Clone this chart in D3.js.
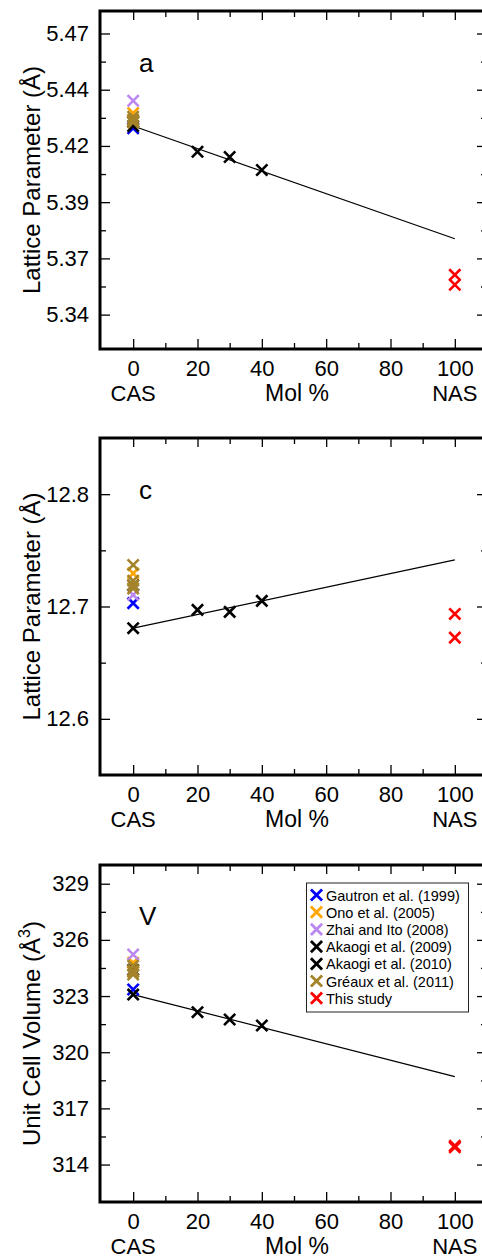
<!DOCTYPE html>
<html>
<head>
<meta charset="utf-8">
<script src="https://cdn.jsdelivr.net/npm/d3@7"></script>
<style>
  html, body { margin: 0; padding: 0; background: #fff; }
  svg { display: block; font-family: "Liberation Sans", Arial, Helvetica, sans-serif; }
</style>
</head>
<body>
<svg id="chart" width="482" height="1258"></svg>
<script>
// ---- data -------------------------------------------------------------
// composition axis (mol % NAS in the CAS–NAS join)
const xMajorTicks = [0, 20, 40, 60, 80, 100];
const xMinorTicks = [10, 30, 50, 70, 90];
const endMemberLabels = ["CAS", "Mol %", "NAS"];

// lattice parameter a (Å)
const aTicks = [5.34, 5.366, 5.392, 5.418, 5.444, 5.47];
// lattice parameter c (Å)
const cTicks = [12.6, 12.7, 12.8];
// unit cell volume (Å^3)
const vTicks = [314, 317, 320, 323, 326, 329];

// one small record per data source
const gautron  = { name: "Gautron et al. (1999)", mol: [0], a: [5.4262], c: [12.703], V: [323.35] };
const ono      = { name: "Ono et al. (2005)",     mol: [0], a: [5.4332], c: [12.7295], V: [324.78] };
const zhai     = { name: "Zhai and Ito (2008)",   mol: [0], a: [5.4389], c: [12.7103], V: [325.22] };
const akaogi09 = { name: "Akaogi et al. (2009)",  mol: [0], a: [5.4292], c: [12.719], V: [324.4] };
const akaogi10 = { name: "Akaogi et al. (2010)",  mol: [0, 20, 30, 40],
                   a: [5.4272, 5.4153, 5.4129, 5.4069],
                   c: [12.6807, 12.697, 12.6952, 12.705],
                   V: [323.08, 322.14, 321.75, 321.43] };
const greaux   = { name: "Gréaux et al. (2011)",  mol: [0, 0, 0, 0],
                   a: [5.4315, 5.4302, 5.4289, 5.4295],
                   c: [12.737, 12.723, 12.719, 12.716],
                   V: [324.62, 324.38, 324.15, 324.3] };
const thisStudy = { name: "This study",           mol: [100, 100],
                   a: [5.3584, 5.3538],
                   c: [12.6934, 12.6723],
                   V: [315.0, 314.92] };

// linear trend through the CAS-rich data, drawn out to NAS
const trendMol = [0, 100];
const trendA = [5.4272, 5.3751];
const trendC = [12.6807, 12.7415];
const trendV = [323.08, 318.7];

// ---- styling ----------------------------------------------------------
const series = [gautron, ono, zhai, akaogi09, akaogi10, greaux, thisStudy];
const seriesColor = new Map([
  [gautron, "#0000ff"], [ono, "#ffa500"], [zhai, "#bb88f2"],
  [akaogi09, "#000000"], [akaogi10, "#000000"], [greaux, "#a4832a"], [thisStudy, "#ff0000"]
]);

const panels = [
  { key: "a", top: 11,  bottom: 349,  domain: [5.3241, 5.4804], ticks: aTicks, fmt: d => d.toFixed(2),
    trend: trendA, title: ["Lattice Parameter (Å)"], letter: "a" },
  { key: "c", top: 438, bottom: 775,  domain: [12.55, 12.85], ticks: cTicks, fmt: d => d.toFixed(1),
    trend: trendC, title: ["Lattice Parameter (Å)"], letter: "c" },
  { key: "V", top: 865, bottom: 1202, domain: [312, 330], ticks: vTicks, fmt: d => d.toFixed(0),
    trend: trendV, title: ["Unit Cell Volume (Å", "3", ")"], letter: "V", legend: true }
];

const svg = d3.select("#chart");
const x = d3.scaleLinear().domain([-10, 110]).range([101, 487]);
const frameLeft = 100, frameRight = 487;

function xMark(sel, s, w) {
  return sel.append("path")
    .attr("d", `M${-s},${-s}L${s},${s}M${-s},${s}L${s},${-s}`)
    .attr("fill", "none")
    .attr("stroke-width", w || 2.6);
}

function midpoints(t) {
  const m = [];
  for (let i = 0; i < t.length - 1; i++) m.push((t[i] + t[i + 1]) / 2);
  return m;
}

panels.forEach(p => {
  const y = d3.scaleLinear().domain(p.domain).range([p.bottom, p.top]);
  const g = svg.append("g").attr("class", "panel-" + p.key);

  const tickStyle = sel => {
    sel.select(".domain").remove();
    sel.selectAll(".tick line").attr("stroke", "#000").attr("stroke-width", 1.3);
    sel.selectAll(".tick text").attr("font-size", 22).attr("fill", "#000")
      .attr("font-family", "\"Liberation Sans\", Arial, sans-serif");
  };

  // bottom axis with labels
  g.append("g").attr("transform", `translate(0,${p.bottom})`)
    .call(d3.axisBottom(x).tickValues(xMajorTicks).tickSize(-10).tickPadding(11).tickFormat(d3.format("d")))
    .call(tickStyle);
  g.append("g").attr("transform", `translate(0,${p.bottom})`)
    .call(d3.axisBottom(x).tickValues(xMinorTicks).tickSize(-6).tickFormat(""))
    .call(tickStyle);
  // top axis (ticks only)
  g.append("g").attr("transform", `translate(0,${p.top})`)
    .call(d3.axisTop(x).tickValues(xMajorTicks).tickSize(-9).tickFormat(""))
    .call(tickStyle);
  g.append("g").attr("transform", `translate(0,${p.top})`)
    .call(d3.axisTop(x).tickValues(xMinorTicks).tickSize(-6).tickFormat(""))
    .call(tickStyle);
  // left axis with labels
  g.append("g").attr("transform", `translate(${frameLeft},0)`)
    .call(d3.axisLeft(y).tickValues(p.ticks).tickSize(-10).tickPadding(11).tickFormat(p.fmt))
    .call(tickStyle);
  g.append("g").attr("transform", `translate(${frameLeft},0)`)
    .call(d3.axisLeft(y).tickValues(midpoints(p.ticks)).tickSize(-6).tickFormat(""))
    .call(tickStyle);
  // right axis (ticks only)
  g.append("g").attr("transform", `translate(${frameRight},0)`)
    .call(d3.axisRight(y).tickValues(p.ticks).tickSize(-10).tickFormat(""))
    .call(tickStyle);
  g.append("g").attr("transform", `translate(${frameRight},0)`)
    .call(d3.axisRight(y).tickValues(midpoints(p.ticks)).tickSize(-6).tickFormat(""))
    .call(tickStyle);

  // frame
  g.append("rect")
    .attr("x", frameLeft).attr("y", p.top)
    .attr("width", frameRight - frameLeft).attr("height", p.bottom - p.top)
    .attr("fill", "none").attr("stroke", "#000").attr("stroke-width", 3);

  // end-member labels under the composition axis
  const lblY = p.bottom + 52;
  g.append("text").attr("x", x(xMajorTicks[0])).attr("y", lblY).attr("text-anchor", "middle")
    .attr("font-size", 22).text(endMemberLabels[0]);
  g.append("text").attr("x", 297).attr("y", lblY).attr("text-anchor", "middle")
    .attr("font-size", 23).text(endMemberLabels[1]);
  g.append("text").attr("x", x(xMajorTicks[xMajorTicks.length - 1])).attr("y", lblY).attr("text-anchor", "middle")
    .attr("font-size", 22).text(endMemberLabels[2]);

  // y-axis title
  const cy = (p.top + p.bottom) / 2;
  const t = g.append("text")
    .attr("transform", `translate(40,${cy}) rotate(-90)`)
    .attr("text-anchor", "middle").attr("font-size", 24);
  t.append("tspan").text(p.title[0]);
  if (p.title.length > 1) {
    t.append("tspan").attr("font-size", 16).attr("dy", -10).text(p.title[1]);
    t.append("tspan").attr("dy", 10).text(p.title[2]);
  }

  // panel letter
  g.append("text").attr("x", 139).attr("y", p.top + (p.key === "V" ? 60 : 61))
    .attr("font-size", 26).text(p.letter);

  // trend line
  const line = d3.line().x((d, i) => x(trendMol[i])).y(d => y(d));
  g.append("path").datum(p.trend).attr("d", line)
    .attr("fill", "none").attr("stroke", "#000").attr("stroke-width", 1.2);

  // data markers
  series.forEach(s => {
    s.mol.forEach((m, i) => {
      xMark(g.append("g").attr("transform", `translate(${x(m)},${y(s[p.key][i])})`), 5.6)
        .attr("stroke", seriesColor.get(s));
    });
  });

  // legend
  if (p.legend) {
    const lg = g.append("g");
    const lx = 306.5, ly = 883, rowH = 17.2;
    lg.append("rect").attr("x", lx).attr("y", ly).attr("width", 162).attr("height", 129)
      .attr("fill", "#fff").attr("stroke", "#222").attr("stroke-width", 1);
    series.forEach((s, i) => {
      const ry = ly + 12 + i * rowH;
      xMark(lg.append("g").attr("transform", `translate(${lx + 10},${ry})`), 5.6, 2.8)
        .attr("stroke", seriesColor.get(s));
      lg.append("text").attr("x", lx + 19.5).attr("y", ry + 5.5).attr("font-size", 14.5).text(s.name);
    });
  }
});
</script>
</body>
</html>
